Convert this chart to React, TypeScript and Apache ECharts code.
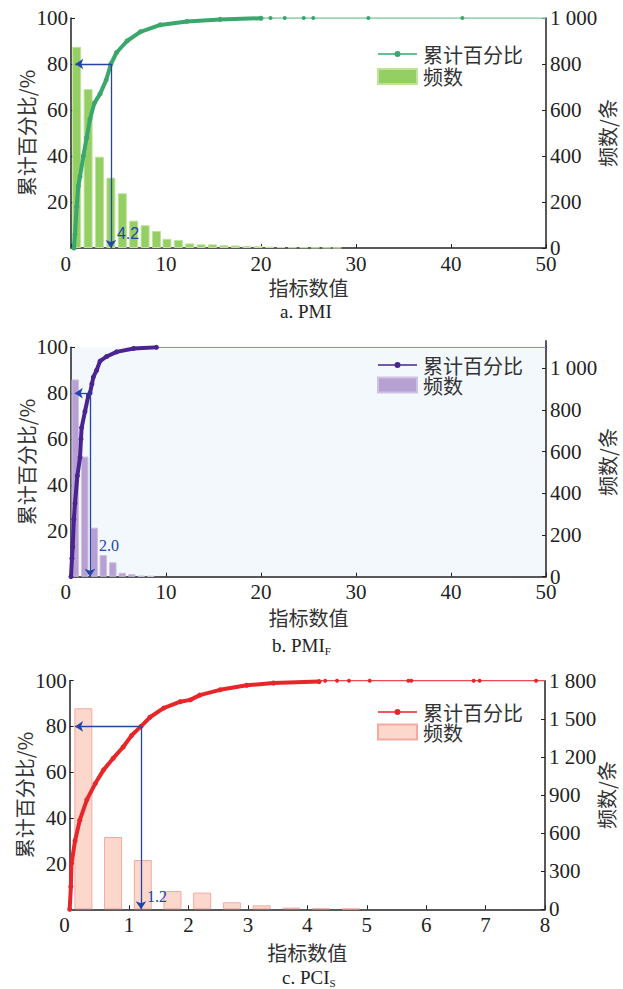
import React, { useEffect, useRef } from "react";
import * as echarts from "echarts";

// ---------- Panel a: PMI ----------
const pmiCumX = [0.3, 0.42, 0.6, 0.77, 0.95, 1.3, 1.65, 2.0, 2.46, 3.06, 3.7, 4.2, 4.8, 5.9, 7.3, 9.4, 12.2, 15.7, 20];
const pmiCumY = [0, 6, 18, 27, 31, 40, 48, 56, 63, 67, 73, 80, 85, 90, 94, 97, 98.5, 99.4, 99.9];
const pmiTailX = [20, 21, 22.5, 24.5, 25.5, 31.3, 41.2, 50];
const pmiBinX = [0.6, 1.8, 3.0, 4.2, 5.4, 6.6, 7.8, 9.0, 10.1, 11.3, 12.5, 13.7, 14.9, 16.1, 17.3, 18.5, 19.7, 20.9, 22.1, 23.3, 24.5, 25.7, 26.9, 28.0];
const pmiFreq = [875, 691, 397, 306, 238, 119, 99, 74, 40, 35, 20, 16, 16, 12, 11, 9, 8, 6, 4, 3, 3, 2, 2, 1];
const pmiCut = 4.2;

// ---------- Panel b: PMI_F ----------
const pmifCumX = [0, 0.1, 0.18, 0.3, 0.42, 0.67, 0.95, 1.05, 1.12, 1.47, 1.83, 2.0, 2.2, 2.35, 2.7, 3.06, 3.76, 4.8, 6.6, 9.0];
const pmifCumY = [0, 8, 13, 25, 32, 44, 52, 60, 65, 72, 79, 80, 84, 87, 90, 94, 96, 98, 99.5, 100];
const pmifTailX = [9.0, 50];
const pmifBinX = [0.45, 1.45, 2.45, 3.4, 4.4, 5.4, 6.4, 7.4, 8.4];
const pmifFreq = [946, 576, 235, 104, 69, 19, 13, 5, 4];
const pmifCut = 2.0;

// ---------- Panel c: PCI_S ----------
const pciCumX = [0, 0.02, 0.03, 0.09, 0.17, 0.29, 0.43, 0.57, 0.73, 0.9, 1.04, 1.2, 1.35, 1.58, 1.86, 2.03, 2.19, 2.53, 2.98, 3.43, 4.2];
const pciCumY = [0, 10, 20, 30, 39, 48, 55, 61, 66, 71, 76, 80, 84, 88, 90.8, 91.6, 93.7, 96, 98, 99, 99.6];
const pciTailX = [4.2, 4.3, 4.5, 4.7, 5.05, 5.7, 5.75, 6.8, 6.9, 7.85, 8];
const pciBinX = [0.23, 0.73, 1.23, 1.73, 2.23, 2.73, 3.23, 3.73, 4.23, 4.73];
const pciFreq = [1583, 569, 388, 144, 131, 55, 31, 13, 8, 5];
const pciCut = 1.2;

const SERIF = "Liberation Serif";
const CJK = "Noto Sans CJK SC";
const AXIS = "#222";
const ARROW = "#2445a8";
const LINE_ICON =
  "path://M0,2.2L39,2.2L39,3.8L0,3.8Z M22.5,3A3,3,0,1,1,16.5,3A3,3,0,1,1,22.5,3Z";

const zip = (xs: number[], ys: number[]) => xs.map((x, i) => [x, ys[i]]);
const thousands = (v: number) =>
  v >= 1000 ? `${Math.floor(v / 1000)} ${String(v % 1000).padStart(3, "0")}` : String(v);

type Panel = {
  top: number;
  height: number;
  grid: any;
  bg?: string;
  xMax: number;
  xInterval: number;
  rMax: number;
  rInterval: number;
  rTicks?: number[];
  cumX: number[];
  cumY: number[];
  tailX: number[];
  tailMarkers: boolean;
  binX: number[];
  freq: number[];
  cut: number;
  cutLabelY: number;
  cutLabelDist: number;
  arrowEndX: number;
  lineColor: string;
  tailColor: string;
  barColor: string;
  barBorder: string;
  barWidth: number;
  legendTop: number;
  legendGap: number;
  caption: string;
  captionLeft: number;
  captionTop: number;
  xNameGap: number;
  labelFont: string;
  extraTop?: number;
};

const panels: Panel[] = [
  {
    top: 0, height: 330,
    grid: { left: 71, right: 77, top: 18, height: 230 },
    xMax: 50, xInterval: 10, rMax: 1000, rInterval: 200,
    cumX: pmiCumX, cumY: pmiCumY, tailX: pmiTailX, tailMarkers: true,
    binX: pmiBinX, freq: pmiFreq, cut: pmiCut, cutLabelY: 6.3, cutLabelDist: 6, arrowEndX: 0.45,
    lineColor: "#3aa76d", tailColor: "#7cc89c", barColor: "#93cf62", barBorder: "#bfe39c", barWidth: 9,
    legendTop: 44, legendGap: 2.5,
    caption: "a. PMI", captionLeft: 280, captionTop: 302, xNameGap: 29,
    labelFont: "Liberation Sans",
  },
  {
    top: 330, height: 330,
    grid: { left: 71, right: 77, top: 17.3, height: 229.4 },
    bg: "#f3f8fc",
    xMax: 50, xInterval: 10, rMax: 1100, rInterval: 200, rTicks: [0, 200, 400, 600, 800, 1000],
    cumX: pmifCumX, cumY: pmifCumY, tailX: pmifTailX, tailMarkers: false,
    binX: pmifBinX, freq: pmifFreq, cut: pmifCut, cutLabelY: 13.4, cutLabelDist: 9, arrowEndX: 0.4,
    lineColor: "#4a2590", tailColor: "#9c88c8", barColor: "#b7a0d2", barBorder: "#cfc0e4", barWidth: 7.5,
    legendTop: 25, legendGap: 0,
    caption: "b. PMI{s|F}", captionLeft: 272, captionTop: 305, xNameGap: 31,
    labelFont: SERIF,
    extraTop: 7,
  },
  {
    top: 660, height: 329,
    grid: { left: 69.7, right: 78, top: 20.7, height: 228.6 },
    xMax: 8, xInterval: 1, rMax: 1800, rInterval: 300,
    cumX: pciCumX, cumY: pciCumY, tailX: pciTailX, tailMarkers: true,
    binX: pciBinX, freq: pciFreq, cut: pciCut, cutLabelY: 5.8, cutLabelDist: 6, arrowEndX: 0.09,
    lineColor: "#e8262a", tailColor: "#ec4a4c", barColor: "#fcd8cc", barBorder: "#f4a9a3", barWidth: 18,
    legendTop: 42, legendGap: 0,
    caption: "c. PCI{s|S}", captionLeft: 282, captionTop: 307, xNameGap: 33,
    labelFont: SERIF,
  },
];

function makeOption(p: Panel) {
  const tailData = p.tailX.map((x, i) => {
    const end = i === 0 || i === p.tailX.length - 1;
    return { value: [x, 100], symbol: p.tailMarkers && !end ? "circle" : "none" };
  });
  const graphics: any[] = [];
  if (p.extraTop) {
    const xr = 623 - p.grid.right;
    graphics.push({
      type: "line",
      shape: { x1: xr, y1: p.grid.top - p.extraTop, x2: xr, y2: p.grid.top },
      style: { stroke: AXIS, lineWidth: 1.5 },
    });
  }
  return {
    animation: false,
    textStyle: { fontFamily: SERIF },
    title: {
      text: p.caption,
      left: p.captionLeft,
      top: p.captionTop,
      padding: 0,
      textStyle: {
        fontFamily: SERIF, fontSize: 19, fontWeight: "normal", color: "#222",
        rich: { s: { fontFamily: SERIF, fontSize: 11, color: "#222", padding: [10, 0, 0, 0] } },
      },
    },
    graphic: graphics,
    grid: {
      ...p.grid,
      outerBoundsMode: "none",
      containLabel: false,
      show: !!p.bg,
      backgroundColor: p.bg || "transparent",
      borderWidth: 0,
    },
    legend: {
      orient: "vertical",
      left: 377,
      top: p.legendTop,
      itemWidth: 39,
      itemHeight: 15,
      itemGap: p.legendGap,
      padding: 0,
      data: [{ name: "累计百分比", icon: LINE_ICON }, { name: "频数", icon: "rect" }],
      textStyle: { fontFamily: CJK, fontSize: 20, lineHeight: 20, color: "#333", padding: [0, 0, 0, 1] },
    },
    xAxis: {
      type: "value",
      min: 0,
      max: p.xMax,
      interval: p.xInterval,
      name: "指标数值",
      nameLocation: "middle",
      nameGap: p.xNameGap,
      nameMoveOverlap: false,
      nameTextStyle: { fontFamily: CJK, fontSize: 20, color: "#333" },
      axisLine: { onZero: false, lineStyle: { color: AXIS, width: 1.5 } },
      axisTick: { inside: true, length: 4, lineStyle: { color: AXIS, width: 1 } },
      axisLabel: { margin: 5, alignMinLabel: "right", fontFamily: SERIF, fontSize: 21, color: "#222" },
      splitLine: { show: false },
    },
    yAxis: [
      {
        type: "value",
        position: "left",
        min: 0,
        max: 100,
        interval: 20,
        name: "累计百分比/%",
        nameLocation: "middle",
        nameRotate: 90,
        nameGap: 35,
        nameMoveOverlap: false,
        nameTextStyle: { fontFamily: CJK, fontSize: 20, color: "#333" },
        axisLine: { show: true, onZero: false, lineStyle: { color: AXIS, width: 1.5 } },
        axisTick: { show: true, inside: true, length: 4, lineStyle: { color: AXIS, width: 1 } },
        axisLabel: { showMinLabel: false, margin: 3, fontFamily: SERIF, fontSize: 21, color: "#222" },
        splitLine: { show: false },
      },
      {
        type: "value",
        position: "right",
        min: 0,
        max: p.rMax,
        interval: p.rInterval,
        name: "频数/条",
        nameLocation: "middle",
        nameRotate: 90,
        nameGap: 51,
        nameMoveOverlap: false,
        nameTextStyle: { fontFamily: CJK, fontSize: 20, color: "#333" },
        axisLine: { show: true, onZero: false, lineStyle: { color: AXIS, width: 1.5 } },
        axisTick: {
          show: true, inside: true, length: 4, lineStyle: { color: AXIS, width: 1 },
          ...(p.rTicks ? { customValues: p.rTicks } : {}),
        },
        axisLabel: {
          margin: 4, fontFamily: SERIF, fontSize: 21, color: "#222",
          formatter: (v: number) => thousands(v),
          ...(p.rTicks ? { customValues: p.rTicks } : {}),
        },
        splitLine: { show: false },
      },
    ],
    series: [
      {
        name: "频数",
        type: "bar",
        xAxisIndex: 0,
        yAxisIndex: 1,
        barWidth: p.barWidth,
        z: 1,
        data: zip(p.binX, p.freq),
        itemStyle: { color: p.barColor, borderColor: p.barBorder, borderWidth: 1 },
      },
      {
        type: "line",
        xAxisIndex: 0,
        yAxisIndex: 0,
        z: 2,
        data: tailData,
        symbolSize: 4,
        itemStyle: { color: p.lineColor },
        lineStyle: { color: p.tailColor, width: 1.3 },
      },
      {
        name: "累计百分比",
        type: "line",
        xAxisIndex: 0,
        yAxisIndex: 0,
        z: 3,
        data: zip(p.cumX, p.cumY),
        symbol: "circle",
        symbolSize: 5,
        showSymbol: true,
        itemStyle: { color: p.lineColor },
        lineStyle: { color: p.lineColor, width: 4 },
        markLine: {
          silent: true,
          symbol: ["none", "arrow"],
          symbolSize: 8,
          label: { show: false },
          lineStyle: { color: ARROW, width: 1.3, type: "solid" },
          data: [
            [{ coord: [p.cut, 80] }, { coord: [p.arrowEndX, 80] }],
            [{ coord: [p.cut, 80] }, { coord: [p.cut, 0] }],
          ],
        },
        markPoint: {
          silent: true,
          symbol: "circle",
          symbolSize: 0,
          data: [
            {
              coord: [p.cut, p.cutLabelY],
              label: {
                show: true,
                position: "right",
                distance: p.cutLabelDist,
                formatter: p.cut.toFixed(1),
                fontFamily: p.labelFont,
                fontSize: 16,
                color: ARROW,
              },
            },
          ],
        },
      },
    ],
  };
}

export default function App() {
  const refs = [useRef<HTMLDivElement>(null), useRef<HTMLDivElement>(null), useRef<HTMLDivElement>(null)];
  useEffect(() => {
    const charts = panels.map((p, i) => {
      const c = echarts.init(refs[i].current!, undefined, { renderer: "svg" });
      c.setOption(makeOption(p));
      return c;
    });
    return () => charts.forEach((c) => c.dispose());
  }, []);
  return (
    <div style={{ position: "absolute", left: 0, top: 0, width: 623, height: 989, background: "#fff" }}>
      {panels.map((p, i) => (
        <div
          key={i}
          ref={refs[i]}
          style={{ position: "absolute", left: 0, top: p.top, width: 623, height: p.height }}
        />
      ))}
    </div>
  );
}
